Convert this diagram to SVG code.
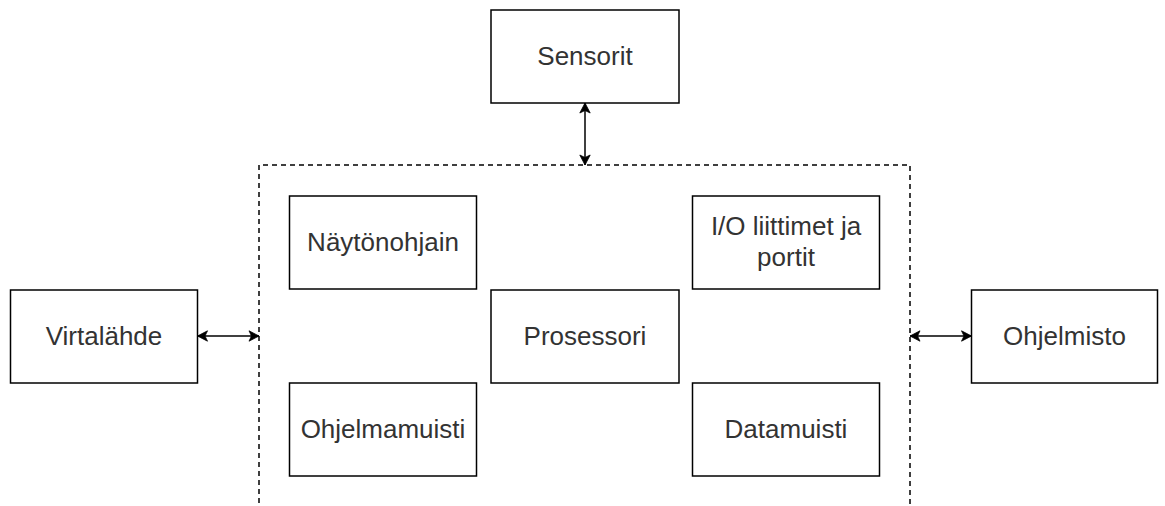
<svg xmlns="http://www.w3.org/2000/svg" width="1165" height="506" viewBox="0 0 1165 506">
  <style>
    .box { fill: #ffffff; stroke: #000000; stroke-width: 1.5; }
    .label { font-family: "Liberation Sans", Arial, sans-serif; font-size: 26px; fill: #333333; text-anchor: middle; }
    .edge { fill: none; stroke: #000000; stroke-width: 1.5; }
    .frame { fill: none; stroke: #000000; stroke-width: 1.5; stroke-dasharray: 5 4; }
  </style>
  <defs>
    <marker id="arrow" viewBox="-11 -6 11 12" refX="0" refY="0" markerWidth="11" markerHeight="12" markerUnits="userSpaceOnUse" orient="auto-start-reverse">
      <path d="M0,0 L-10,-5.2 L-7.5,0 L-10,5.2 Z" fill="#000000" stroke="#000000" stroke-width="0.8"/>
    </marker>
  </defs>

  <rect width="1165" height="506" fill="#ffffff"/>

  <!-- device boundary, open at the bottom -->
  <path class="frame" d="M259,512 V165 H910 V512"/>

  <g id="connectors">
    <path class="edge" d="M585,103 V165" marker-start="url(#arrow)" marker-end="url(#arrow)"/>
    <path class="edge" d="M197.5,336 H259" marker-start="url(#arrow)" marker-end="url(#arrow)"/>
    <path class="edge" d="M910,336 H971.5" marker-start="url(#arrow)" marker-end="url(#arrow)"/>
  </g>

  <g id="sensorit">
    <rect class="box" x="491" y="10" width="188" height="93"/>
    <text class="label" x="585" y="64.5">Sensorit</text>
  </g>

  <g id="naytonohjain">
    <rect class="box" x="289.5" y="196" width="187" height="93"/>
    <text class="label" x="383" y="250.5">Näytönohjain</text>
  </g>

  <g id="io-liittimet">
    <rect class="box" x="692.5" y="196" width="187" height="93"/>
    <text class="label" x="786" y="235">I/O liittimet ja</text>
    <text class="label" x="786" y="266">portit</text>
  </g>

  <g id="prosessori">
    <rect class="box" x="491" y="290" width="188" height="93"/>
    <text class="label" x="585" y="344.5">Prosessori</text>
  </g>

  <g id="ohjelmamuisti">
    <rect class="box" x="289.5" y="383" width="187" height="93"/>
    <text class="label" x="383" y="437.5">Ohjelmamuisti</text>
  </g>

  <g id="datamuisti">
    <rect class="box" x="692.5" y="383" width="187" height="93"/>
    <text class="label" x="786" y="437.5">Datamuisti</text>
  </g>

  <g id="virtalahde">
    <rect class="box" x="10.5" y="290" width="187" height="93"/>
    <text class="label" x="104" y="344.5">Virtalähde</text>
  </g>

  <g id="ohjelmisto">
    <rect class="box" x="971.5" y="290" width="186" height="93"/>
    <text class="label" x="1064.5" y="344.5">Ohjelmisto</text>
  </g>
</svg>
